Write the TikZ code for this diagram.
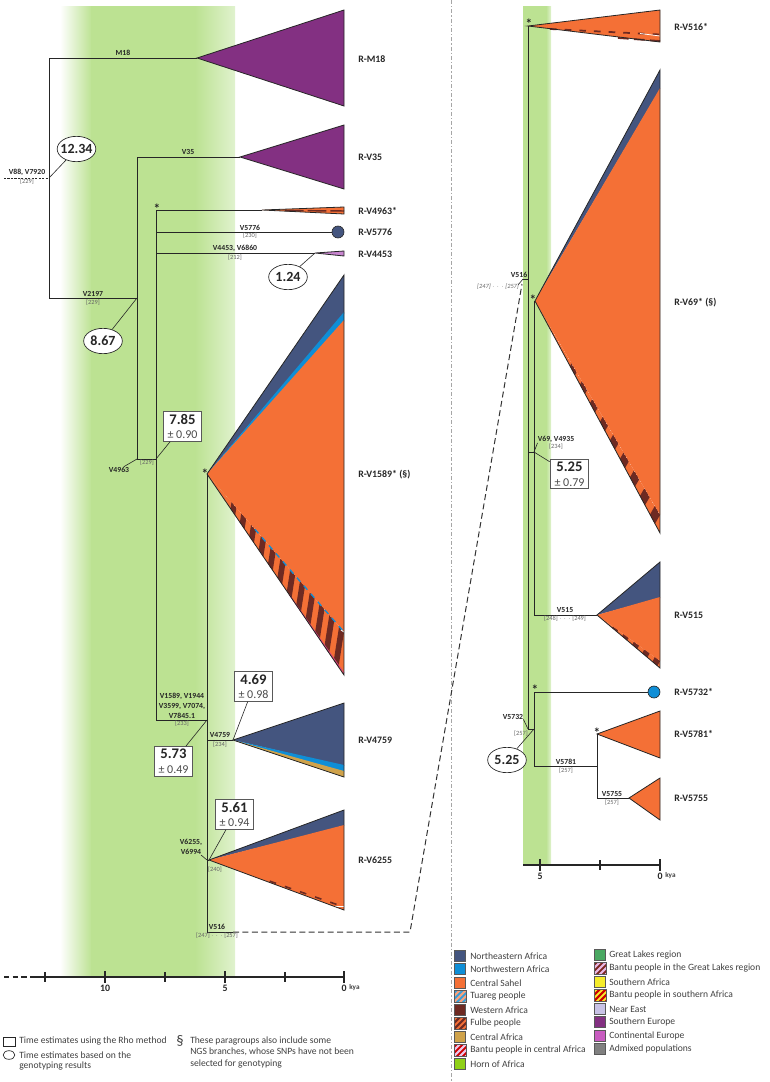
\documentclass[tikz,border=0pt]{standalone}
\usepackage{fontspec}
\setmainfont{Carlito}
\usetikzlibrary{calc,shapes.geometric}
\definecolor{band}{HTML}{BCE292}
\definecolor{bandfade}{HTML}{E0F2CE}
\definecolor{nea}{HTML}{44557F}
\definecolor{nwa}{HTML}{0F8ED6}
\definecolor{sahel}{HTML}{F47036}
\definecolor{wafr}{HTML}{6E2A22}
\definecolor{cafr}{HTML}{CFA24A}
\definecolor{horn}{HTML}{8FD017}
\definecolor{lakes}{HTML}{4AA862}
\definecolor{safr}{HTML}{F5EC2B}
\definecolor{neareast}{HTML}{C8C2E6}
\definecolor{seur}{HTML}{833082}
\definecolor{ceur}{HTML}{C85CC0}
\definecolor{admix}{HTML}{808080}
\definecolor{ink}{HTML}{262626}
\tikzset{
  branch/.style={draw=ink,line width=.7pt},
  lead/.style={draw=ink,line width=.45pt},
  clade/.style={draw=ink,line width=.6pt,line join=miter},
  mut/.style={font=\fontsize{5.8}{7}\selectfont\bfseries,text=ink,inner sep=0pt},
  sample/.style={font=\fontsize{4.8}{5}\selectfont,text=black!60,inner sep=0pt},
  star/.style={font=\fontsize{10}{10}\selectfont\bfseries,text=ink,inner sep=0pt},
  hap/.style={font=\fontsize{7.4}{9}\selectfont\bfseries,text=ink,anchor=west,inner sep=0pt},
  rhobox/.style={draw=black!65,line width=.8pt,fill=white,align=center,inner sep=0pt,
    minimum width=29pt,minimum height=22pt,font=\fontsize{9}{11}\selectfont,text=black!70},
  genoell/.style={ellipse,draw=ink,line width=.5pt,fill=white,inner sep=-3pt,
    minimum width=29pt,minimum height=19pt,font=\fontsize{10.5}{11}\selectfont\bfseries,text=ink},
  tick/.style={font=\fontsize{7.4}{9}\selectfont\bfseries,text=ink,inner sep=0pt},
  kya/.style={font=\fontsize{5.4}{6}\selectfont\bfseries,text=black!75,anchor=west,inner sep=0pt},
  note/.style={font=\fontsize{7.2}{9}\selectfont,text=black!75,anchor=west,inner sep=0pt},
  axisline/.style={draw=ink,line width=1.3pt},
  swatch/.style={draw=black!65,line width=.6pt,minimum size=8.6pt,inner sep=0pt},
}
% stripes inside a thin wedge: apex, upper end, lower end, last, first
\newcommand{\stripeband}[5]{%
  \begin{scope}
    \clip (#1) -- (#2) -- (#3) -- cycle;
    \fill [sahel] (#1) -- (#2) -- (#3) -- cycle;
    \foreach \k in {#5,...,#4} {
      \pgfmathsetmacro\ta{(\k-.5)/#4}
      \pgfmathsetmacro\tb{\k/#4}
      \pgfmathsetmacro\tc{\ta*.96}
      \pgfmathsetmacro\td{\tb*.96}
      \fill [wafr] ($(#1)!\ta!(#2)$) -- ($(#1)!\tb!(#2)$) -- ($(#1)!\td!(#3)$) -- ($(#1)!\tc!(#3)$) -- cycle;
    }
  \end{scope}}
\begin{document}
\begin{tikzpicture}[x=.75pt,y=-.75pt]
  \useasboundingbox (0,0) rectangle (770,1082);
  % green bands
  \shade [left color=white,right color=band] (60,6) rectangle (92,977);
  \fill [band] (91,6) rectangle (196,977);
  \shade [left color=band,right color=bandfade] (195,6) rectangle (235,977);
  \fill [band] (523,6) rectangle (547,865);
  \shade [left color=band,right color=bandfade] (546,6) rectangle (551,865);
  % separator
  \draw [black!35,line width=.35pt,dash pattern=on 3pt off 1.5pt on 1pt off 1.5pt] (451,0) -- (451,1082);

  % left tree
  \coordinate (root) at (49,178);
  \coordinate (rootin) at (4,178);
  \coordinate (m18top) at (49,58);
  \coordinate (m18) at (197,58);
  \coordinate (v2197l) at (49,298);
  \coordinate (v2197) at (137,298);
  \coordinate (v35top) at (137,157);
  \coordinate (v35) at (240,157);
  \coordinate (v4963b) at (137,459);
  \coordinate (v4963) at (156,459);
  \coordinate (startop) at (156,210);
  \coordinate (starend) at (262,210);
  \coordinate (v5776l) at (156,232);
  \coordinate (v4453l) at (156,253);
  \coordinate (v4453) at (315,253);
  \coordinate (v1589b) at (156,720);
  \coordinate (v1589) at (207,720);
  \coordinate (v1589top) at (207,474);
  \coordinate (v4759l) at (207,740);
  \coordinate (v4759) at (233,740);
  \coordinate (v6255l) at (207,860);
  \coordinate (v6255) at (209,860);
  \coordinate (v6255tick) at (201,855);
  \coordinate (v516l) at (207,932);
  \coordinate (v516r) at (233,932);
  \coordinate (v516d) at (410,932);
  \coordinate (v516e) at (522,284);

  % clades
  \draw [clade,fill=seur] (m18) -- (344,10) -- (344,106) -- cycle;
  \draw [clade,fill=seur] (v35) -- (344,125) -- (344,189) -- cycle;
  \fill [sahel] (starend) -- (344,207) -- (344,214) -- cycle;
  \draw [wafr,line width=1.1pt,dash pattern=on 14pt off 3pt] (285,210.5) -- (344,211);
  \draw [clade] (starend) -- (344,207) -- (344,214) -- cycle;
  \draw [clade,fill=ceur!60!neareast] (v4453) -- (344,251) -- (344,256) -- cycle;

  \coordinate (v1589t) at (207,474);
  \coordinate (v1589s) at (344,632);
  \coordinate (v1589e) at (344,675);
  \fill [nea] (v1589t) -- (344,275) -- (344,314) -- cycle;
  \fill [nwa] (v1589t) -- (344,312) -- (344,322) -- cycle;
  \fill [sahel] (v1589t) -- (344,320) -- (v1589s) -- cycle;
  \stripeband{v1589t}{v1589s}{v1589e}{14}{3}
  \draw [nwa,line width=1pt,dash pattern=on 4pt off 4pt] ($(v1589t)!.35!(v1589s)$) -- (v1589s);
  \draw [white,line width=.7pt] (341,630) -- (344,632);
  \draw [ceur!70!red,line width=.6pt] ($(v1589t)!.6!(v1589e)$) -- (344,673);
  \draw [clade] (v1589t) -- (344,275) -- (v1589e) -- cycle;

  \fill [nea] (v4759) -- (344,703) -- (344,766) -- cycle;
  \fill [nwa] (v4759) -- (344,765) -- (344,772) -- cycle;
  \fill [cafr] (v4759) -- (344,771) -- (344,777) -- cycle;
  \draw [clade] (v4759) -- (344,703) -- (344,777) -- cycle;

  \fill [nea] (v6255) -- (344,810) -- (344,826) -- cycle;
  \fill [sahel] (v6255) -- (344,825) -- (344,910) -- cycle;
  \draw [wafr,line width=1.2pt,dash pattern=on 5pt off 7pt] ($(v6255)!.45!(344,907)$) -- (344,907);
  \draw [white,line width=.7pt] (334,906) -- (344,906);
  \draw [clade] (v6255) -- (344,810) -- (344,910) -- cycle;

  % branches
  \draw [branch,dash pattern=on 1.6pt off 1pt] (rootin) -- (root);
  \draw [branch] (m18) -- (m18top) -- (v2197l) -- (v2197);
  \draw [branch] (v35) -- (v35top) -- (v4963b) -- (v4963);
  \draw [branch] (starend) -- (startop) -- (v1589b) -- (v1589);
  \draw [branch] (v5776l) -- (332,232);
  \draw [branch] (v4453l) -- (v4453);
  \draw [branch] (v1589top) -- (v516l) -- (v516r);
  \draw [branch] (v4759l) -- (v4759);
  \draw [branch] (v6255l) -- (v6255);
  \draw [draw=black!80,line width=.75pt,dash pattern=on 4.5pt off 2.6pt] (v516r) -- (v516d) -- (v516e);
  \node [circle,draw=ink,fill=nea,line width=.5pt,minimum size=9pt,inner sep=0pt] (c5776) at (338,232) {};

  % right tree
  \coordinate (r516b) at (528,279);
  \coordinate (r516l) at (523,279);
  \coordinate (r516tick) at (518,285);
  \coordinate (r516) at (528,26);
  \coordinate (r69) at (535,301);
  \coordinate (r69top) at (534,301);
  \coordinate (r69l) at (528,452);
  \coordinate (r69r) at (534,452);
  \coordinate (r515l) at (534,615);
  \coordinate (r515) at (597,615);
  \coordinate (r5732a) at (528,729);
  \coordinate (r5732) at (534,729);
  \coordinate (r5732t) at (534,692);
  \coordinate (r5781l) at (534,766);
  \coordinate (r5781b) at (597,766);
  \coordinate (r5781) at (597,734);
  \coordinate (r5755l) at (597,798);
  \coordinate (r5755) at (629,798);

  \fill [sahel] (r516) -- (660,10) -- (660,42) -- cycle;
  \draw [wafr,line width=1.3pt,dash pattern=on 5pt off 6pt] (550,29) -- (660,34.5);
  \draw [wafr,line width=1.3pt,dash pattern=on 8pt off 4pt] (618,38) -- (660,41);
  \draw [white,line width=.6pt] (640,33.5) -- (660,36);
  \draw [clade] (r516) -- (660,10) -- (660,42) -- cycle;

  \coordinate (r69s) at (660,515);
  \coordinate (r69e) at (660,533);
  \fill [nea] (r69) -- (660,70) -- (660,89) -- cycle;
  \fill [sahel] (r69) -- (660,88) -- (r69s) -- cycle;
  \stripeband{r69}{r69s}{r69e}{12}{4}
  \draw [clade] (r69) -- (660,70) -- (r69e) -- cycle;

  \coordinate (r515s) at (660,661);
  \coordinate (r515e) at (660,668);
  \fill [nea] (r515) -- (660,562) -- (660,598) -- cycle;
  \fill [sahel] (r515) -- (660,597) -- (r515s) -- cycle;
  \stripeband{r515}{r515s}{r515e}{6}{2}
  \draw [clade] (r515) -- (660,562) -- (r515e) -- cycle;

  \draw [clade,fill=sahel] (r5781) -- (660,711) -- (660,758) -- cycle;
  \draw [clade,fill=sahel] (r5755) -- (660,778) -- (660,820) -- cycle;

  \draw [branch] (r516) -- (r5732a) -- (r5732);
  \draw [branch] (r516l) -- (r516b);
  \draw [lead] (r516l) -- (r516tick);
  \draw [branch] (r69) -- (r69top) -- (r515l) -- (r515);
  \draw [branch] (r69l) -- (r69r);
  \draw [branch] (r5732t) -- (r5781l) -- (r5781b) -- (r5781);
  \draw [branch] (r5781b) -- (r5755l) -- (r5755);
  \draw [branch] (r5732t) -- (648,692);
  \node [circle,draw=ink,fill=nwa,line width=.5pt,minimum size=9pt,inner sep=0pt] (c5732) at (654,692) {};

  % stars
  \node [star] (s4963) at (157,209) {*};
  \node [star] (s1589) at (205,474) {*};
  \node [star] (s516) at (529,24) {*};
  \node [star] (s69) at (533,300) {*};
  \node [star] (s5732) at (535,690) {*};
  \node [star] (s5781) at (597,733) {*};

  % time estimates
  \node [genoell] (e1234) at (76.5,149) {12.34};
  \node [genoell] (e867) at (103,341) {8.67};
  \node [genoell] (e124) at (288,277) {1.24};
  \node [genoell] (e525) at (507,760) {5.25};
  \node [rhobox] (b785) at (182.5,426.5) {{\bfseries\fontsize{11}{11}\selectfont\textcolor{ink}{7.85}}\\± 0.90};
  \node [rhobox] (b469) at (253.5,686.5) {{\bfseries\fontsize{11}{11}\selectfont\textcolor{ink}{4.69}}\\± 0.98};
  \node [rhobox] (b573) at (173.5,761.5) {{\bfseries\fontsize{11}{11}\selectfont\textcolor{ink}{5.73}}\\± 0.49};
  \node [rhobox] (b561) at (234.5,814.5) {{\bfseries\fontsize{11}{11}\selectfont\textcolor{ink}{5.61}}\\± 0.94};
  \node [rhobox] (b525) at (569.5,474) {{\bfseries\fontsize{11}{11}\selectfont\textcolor{ink}{5.25}}\\± 0.79};
  \draw [lead] (root) -- (e1234);
  \draw [lead] (v2197) -- (e867);
  \draw [lead] (v4453) -- (e124);
  \draw [lead] (r5732) -- (e525);
  \draw [lead] (v4963) -- (b785);
  \draw [lead] (v4759) -- (b469);
  \draw [lead] (v1589) -- (b573);
  \draw [lead] (v6255) -- (b561);
  \draw [lead] (r69r) -- (b525);

  % mutations
  \node [mut] (mM18) at (123,53) {M18};
  \node [mut] (mV35) at (188,152) {V35};
  \node [mut] (mV88) at (27,172.5) {V88, V7920};
  \node [sample] (nV88) at (27,182) {[229]};
  \node [mut] (mV5776) at (250,228) {V5776};
  \node [sample] (nV5776) at (250,236) {[230]};
  \node [mut] (mV4453) at (235,248) {V4453, V6860};
  \node [sample] (nV4453) at (235,258) {[212]};
  \node [mut] (mV2197) at (93,294) {V2197};
  \node [sample] (nV2197) at (93,303) {[229]};
  \node [mut] (mV4963) at (119,469.5) {V4963};
  \node [sample] (nV4963) at (147,463) {[229]};
  \draw [lead] (mV4963) -- (v4963b);
  \node [mut,align=center] (mV1589) at (182,705.5) {V1589, V1944\\[.6pt]V3599, V7074,\\[.6pt]V7845.1};
  \node [sample] (nV1589) at (182,724) {[233]};
  \node [mut] (mV4759) at (220,734.5) {V4759};
  \node [sample] (nV4759) at (220,745) {[234]};
  \node [mut,align=center] (mV6255) at (191,847) {V6255,\\[1pt]V6994};
  \node [sample] (nV6255) at (215,869.5) {[240]};
  \draw [lead] (v6255tick) -- (v6255l);
  \node [mut] (mV516) at (217,927) {V516};
  \node [sample] (nV516) at (217,936) {[247]\,$\cdots$\,[257]};

  \node [mut] (mR516) at (519,274.5) {V516};
  \node [sample,font=\fontsize{4.8}{5}\selectfont\itshape] (nR516) at (498,287) {[247]\,$\cdots$\,[257]};
  \node [mut] (mV69) at (556,439.5) {V69, V4935};
  \node [sample] (nV69) at (556,447) {[234]};
  \draw [lead] (mV69.south west) -- (r69r);
  \node [mut] (mV515) at (565,610) {V515};
  \node [sample] (nV515) at (565,619) {[248]\,$\cdots$\,[249]};
  \node [mut] (mV5732) at (513,716.5) {V5732};
  \node [sample] (nV5732) at (521,733.5) {[257]};
  \draw [lead] (mV5732.south east) -- (r5732a);
  \node [mut] (mV5781) at (566,762) {V5781};
  \node [sample] (nV5781) at (566,771) {[257]};
  \node [mut] (mV5755) at (612,794) {V5755};
  \node [sample] (nV5755) at (612,803) {[257]};

  % haplogroups
  \node [hap] (hM18) at (358,59) {R-M18};
  \node [hap] (hV35) at (358,157.5) {R-V35};
  \node [hap] (hV4963) at (358,211) {R-V4963*};
  \node [hap] (hV5776) at (358,232.5) {R-V5776};
  \node [hap] (hV4453) at (358,254) {R-V4453};
  \node [hap] (hV1589) at (358,475) {R-V1589* (§)};
  \node [hap] (hV4759) at (358,740) {R-V4759};
  \node [hap] (hV6255) at (358,860) {R-V6255};
  \node [hap] (hV516) at (674,27) {R-V516*};
  \node [hap] (hV69) at (674,303) {R-V69* (§)};
  \node [hap] (hV515) at (674,615.5) {R-V515};
  \node [hap] (hV5732) at (674,692) {R-V5732*};
  \node [hap] (hV5781) at (674,734) {R-V5781*};
  \node [hap] (hV5755) at (674,798.5) {R-V5755};

  % axes
  \coordinate (axl) at (33,977);
  \coordinate (axr) at (344,977);
  \coordinate (axd) at (4,977);
  \draw [axisline] (axl) -- (axr);
  \draw [axisline,dash pattern=on 4pt off 2.5pt] (axd) -- (axl);
  \foreach \x in {45,165,285} \draw [ink,line width=.9pt] (\x,972) -- (\x,982);
  \foreach \x in {105,225,344} \draw [ink,line width=1.2pt] (\x,971) -- (\x,983);
  \node [tick] (t10) at (105,988) {10};
  \node [tick] (t5) at (225,988) {5};
  \node [tick] (t0) at (344,988) {0};
  \node [kya] (tk) at (349,987.5) {kya};
  \coordinate (bxl) at (523,865);
  \coordinate (bxr) at (660,865);
  \draw [axisline] (bxl) -- (bxr);
  \draw [ink,line width=.9pt] (600,860) -- (600,870);
  \foreach \x in {540,660} \draw [ink,line width=1.2pt] (\x,859) -- (\x,871);
  \node [tick] (u5) at (540,876) {5};
  \node [tick] (u0) at (660,876) {0};
  \node [kya] (uk) at (665,875.5) {kya};

  % method legend
  \node [draw=ink,line width=.5pt,minimum width=8.8pt,minimum height=7pt,inner sep=0pt] (kbox) at (9,1041.5) {};
  \node [ellipse,draw=ink,line width=.5pt,minimum width=8.8pt,minimum height=6.5pt,inner sep=0pt] (kell) at (9,1055) {};
  \node [note] (ktxa) at (19,1041) {Time estimates using the Rho method};
  \node [note] (ktxb) at (19,1055) {Time estimates based on the};
  \node [note] (ktxc) at (19,1066) {genotyping results};
  \node [font=\fontsize{11}{11}\selectfont,text=black!75,inner sep=0pt] (ksec) at (180,1041) {§};
  \node [note] (ktxd) at (190,1041) {These paragroups also include some};
  \node [note] (ktxe) at (190,1052) {NGS branches, whose SNPs have not been};
  \node [note] (ktxf) at (190,1064) {selected for genotyping};

  % region legend
  \foreach \y/\col/\txt in {956/nea/Northeastern Africa,969/nwa/Northwestern Africa,983/sahel/Central Sahel,996/black!0/Tuareg people,1010/wafr/Western Africa,1023/black!0/Fulbe people,1037/cafr/Central Africa,1050/black!0/Bantu people in central Africa,1064/horn/Horn of Africa} {
    \node [swatch,fill=\col] (sa\y) at (460,\y) {};
    \node [note] (la\y) at (470,\y) {\txt};
  }
  \foreach \y/\col/\txt in {955/lakes/Great Lakes region,968/black!0/Bantu people in the Great Lakes region,982/safr/Southern Africa,995/black!0/Bantu people in southern Africa,1009/neareast/Near East,1022/seur/Southern Europe,1036/ceur/Continental Europe,1049/admix/Admixed populations} {
    \node [swatch,fill=\col] (sb\y) at (600,\y) {};
    \node [note] (lb\y) at (609,\y) {\txt};
  }
  % hatched swatches
  \foreach \x/\y/\cola/\colb in {460/996/nwa!85!white/sahel!65!white,460/1023/sahel/wafr,460/1050/red!80!black/ceur!35!white,600/968/wafr!90!red/ceur!45!white,600/995/safr/red!80!black} {
    \begin{scope}
      \clip (\x-6,\y-6) rectangle (\x+6,\y+6);
      \fill [\cola] (\x-6,\y-6) rectangle (\x+6,\y+6);
      \foreach \s in {-12,-6,...,12} \draw [\colb,line width=1.6pt] (\x+\s-7,\y+7) -- (\x+\s+7,\y-7);
    \end{scope}
    \draw [black!65,line width=.6pt] (\x-6,\y-6) rectangle (\x+6,\y+6);
  }
\end{tikzpicture}
\end{document}
